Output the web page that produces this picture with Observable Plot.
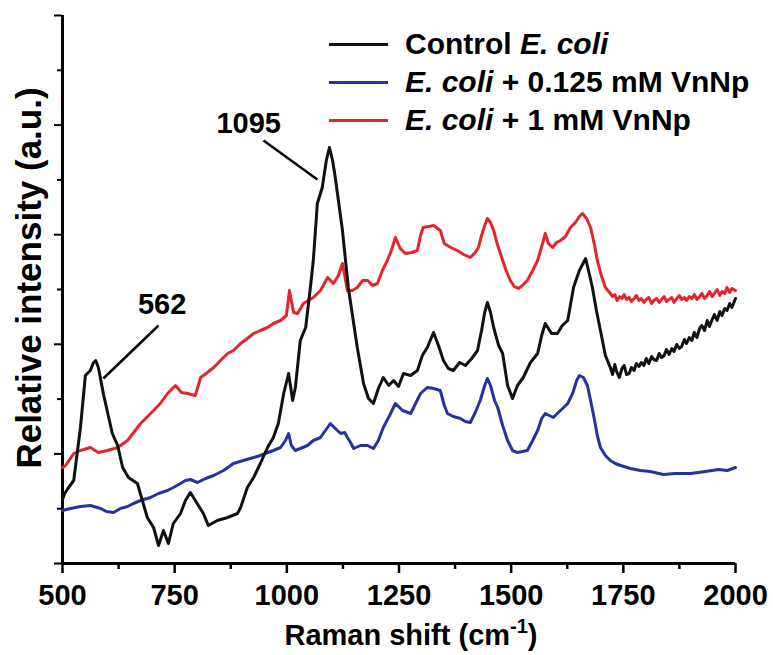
<!DOCTYPE html>
<html><head><meta charset="utf-8">
<script src="https://cdn.jsdelivr.net/npm/d3@7"></script>
<script src="https://cdn.jsdelivr.net/npm/@observablehq/plot@0.6"></script>
<style>
html,body{margin:0;padding:0;background:#fff;}
#wrap{position:relative;width:773px;height:655px;font-family:"Liberation Sans",Arial,sans-serif;font-weight:bold;color:#000;}
#legend{position:absolute;left:329px;top:25px;font-size:30px;line-height:1;}
.row{display:flex;align-items:center;height:38px;white-space:nowrap;}
.sw{width:59px;height:3px;margin-right:17px;}
</style></head><body><div id="wrap"></div>
<script>
// ---- data (Raman shift in cm^-1, relative intensity in a.u.) ----
const seriesNames = ["Control E. coli", "E. coli + 0.125 mM VnNp", "E. coli + 1 mM VnNp"];
const seriesColors = ["#111111", "#26339c", "#e2262b"];

const controlShift = [500,505,512,525,540,551,562,569,574,580,591,603,611,623,634,647,667,678,689,703,714,725,736,747,763,774,785,796,814,825,845,868,890,897,912,926,941,957,970,981,993,1004,1013,1019,1030,1042,1053,1059,1068,1079,1088,1095,1102,1108,1124,1137,1157,1171,1182,1193,1204,1215,1227,1238,1249,1260,1276,1291,1302,1313,1327,1338,1349,1360,1371,1385,1398,1412,1425,1434,1441,1447,1454,1461,1472,1481,1492,1503,1514,1527,1543,1559,1568,1576,1590,1603,1614,1626,1639,1652,1666,1675,1681,1690,1699,1710,1721,1726,1731,1735,1741,1747,1752,1757,1763,1768,1774,1779,1785,1790,1796,1801,1807,1813,1818,1824,1830,1835,1841,1846,1852,1858,1863,1869,1875,1880,1886,1891,1897,1903,1908,1914,1920,1925,1931,1937,1942,1948,1953,1959,1965,1970,1976,1981,1987,1992,2000];
const controlIntensity = [128,140,150,166,272,376,386,402,406,392,340,292,260,236,192,172,160,126,92,72,36,66,40,80,100,126,142,126,100,76,86,92,100,112,152,172,200,232,252,280,340,380,326,352,446,472,556,606,720,752,806,832,806,772,666,552,432,360,330,320,350,372,356,366,354,380,376,386,416,432,462,436,406,390,386,402,396,410,426,466,502,522,502,472,436,420,356,330,356,372,402,420,456,480,460,460,476,486,552,586,610,576,552,506,466,416,392,378,398,384,372,390,396,378,380,392,386,400,394,402,396,410,400,414,408,406,420,412,416,428,418,430,424,438,430,434,448,440,452,446,462,452,470,476,466,486,474,488,498,486,504,496,510,506,520,512,530];

const lowShift = [500,518,540,562,585,598,614,629,645,658,674,696,714,734,747,763,774,785,801,819,837,859,881,903,926,941,957,970,986,997,1004,1010,1019,1030,1046,1059,1075,1086,1097,1108,1120,1129,1135,1142,1149,1164,1180,1193,1204,1215,1229,1242,1258,1276,1287,1298,1313,1327,1342,1351,1358,1371,1387,1398,1409,1420,1431,1441,1447,1454,1463,1470,1481,1492,1503,1514,1525,1536,1548,1559,1568,1576,1585,1594,1605,1617,1626,1637,1646,1652,1661,1670,1677,1686,1692,1699,1710,1721,1732,1744,1766,1788,1810,1839,1866,1900,1933,1962,1982,2000];
const lowIntensity = [106,110,114,116,110,104,102,110,114,120,126,132,140,146,152,160,166,168,162,170,176,186,200,206,212,216,222,226,232,246,260,236,226,230,236,246,252,266,280,270,260,262,252,242,230,236,236,230,246,272,296,320,306,300,320,340,352,350,346,316,300,294,290,284,282,302,326,356,370,356,326,312,276,246,226,222,224,226,246,266,290,300,296,292,302,312,320,340,366,376,372,356,326,286,256,232,216,206,200,196,190,186,184,178,180,180,184,188,186,192];

const highShift = [500,507,525,540,562,580,600,623,645,674,703,718,734,752,765,779,796,808,823,837,852,868,881,897,912,926,941,957,970,986,999,1006,1010,1015,1024,1037,1048,1059,1075,1091,1104,1115,1124,1131,1135,1146,1157,1169,1180,1191,1202,1213,1224,1233,1242,1253,1264,1278,1291,1298,1304,1316,1327,1336,1342,1351,1365,1380,1394,1409,1420,1427,1434,1441,1447,1454,1461,1470,1476,1487,1498,1507,1516,1525,1536,1548,1559,1570,1576,1583,1592,1601,1610,1621,1632,1643,1652,1659,1668,1677,1686,1692,1701,1710,1721,1726,1731,1736,1742,1747,1752,1757,1763,1768,1774,1779,1785,1790,1796,1801,1807,1813,1818,1824,1830,1835,1841,1846,1852,1858,1863,1869,1875,1880,1886,1891,1897,1903,1908,1914,1920,1925,1931,1937,1942,1948,1953,1959,1965,1970,1976,1981,1987,1992,2000];
const highIntensity = [192,196,220,226,232,222,226,232,246,280,306,320,340,356,342,340,336,372,382,392,406,420,426,440,450,460,466,472,480,486,496,546,526,502,500,520,526,532,546,572,560,576,600,566,546,546,552,566,566,556,560,586,606,626,652,630,620,622,626,656,672,674,676,670,666,640,632,626,618,612,622,632,656,676,690,682,666,636,620,590,566,554,550,556,566,586,606,640,660,640,632,642,646,654,672,682,694,700,690,672,636,606,576,552,540,534,538,526,534,530,538,528,532,524,530,536,526,530,522,528,532,520,526,530,522,528,534,524,528,532,522,530,536,528,532,526,534,530,538,528,534,540,530,536,544,534,540,548,536,544,540,552,542,550,546];

const xMajorTicks = [500, 750, 1000, 1250, 1500, 1750, 2000];
const xMinorTicks = [625, 875, 1125, 1375, 1625, 1875];
const yMax = 1096;
const yTickCount = 10;

const peakLabels = ["562", "1095"];
const peakLabelX = [722, 915];
const peakLabelY = [518, 880];
const leaderFromX = [591, 948];
const leaderFromY = [370, 846];
const leaderToX = [714, 1068];
const leaderToY = [476, 768];

// ---- build tables ----
const rows = [];
[[controlShift, controlIntensity, 0], [lowShift, lowIntensity, 1], [highShift, highIntensity, 2]].forEach(([xs, ys, k]) => {
  xs.forEach((x, i) => rows.push({shift: x, intensity: ys[i], series: seriesNames[k]}));
});
const yAll = d3.range(0, yTickCount + 1).map(i => i * yMax / yTickCount);
const yMajor = yAll.filter((d, i) => i % 2 === 0);
const yMinor = yAll.filter((d, i) => i % 2 === 1);
const annos = peakLabels.map((t, i) => ({t, x: peakLabelX[i], y: peakLabelY[i], x1: leaderFromX[i], y1: leaderFromY[i], x2: leaderToX[i], y2: leaderToY[i]}));

const FONT = '"Liberation Sans", Arial, sans-serif';
const plot = Plot.plot({
  width: 773, height: 655,
  marginLeft: 62, marginRight: 38, marginTop: 15, marginBottom: 92,
  style: {fontFamily: FONT, fontWeight: "bold", fontSize: "29px", background: "#fff", color: "#000", overflow: "visible"},
  x: {domain: [500, 2000]},
  y: {domain: [0, yMax]},
  color: {domain: seriesNames, range: seriesColors},
  marks: [
    Plot.axisX({ticks: xMajorTicks, tickSize: 10, tickPadding: 11, strokeWidth: 2.5, fontSize: 29, tickFormat: d => String(d), label: null}),
    Plot.axisX({ticks: xMinorTicks, tickSize: 6, strokeWidth: 2.5, tickFormat: () => "", label: null}),
    Plot.axisY({ticks: yMajor, tickSize: 8, strokeWidth: 2, tickFormat: () => "", label: null}),
    Plot.axisY({ticks: yMinor, tickSize: 5, strokeWidth: 2, tickFormat: () => "", label: null}),
    Plot.ruleY([0], {strokeWidth: 3}),
    Plot.ruleX([500], {strokeWidth: 3}),
    Plot.line(rows.filter(d => d.series === seriesNames[2]), {x: "shift", y: "intensity", stroke: "series", strokeWidth: 3}),
    Plot.line(rows.filter(d => d.series === seriesNames[1]), {x: "shift", y: "intensity", stroke: "series", strokeWidth: 3}),
    Plot.line(rows.filter(d => d.series === seriesNames[0]), {x: "shift", y: "intensity", stroke: "series", strokeWidth: 3}),
    Plot.link(annos, {x1: "x1", y1: "y1", x2: "x2", y2: "y2", stroke: "#000", strokeWidth: 2.5}),
    Plot.text(annos, {x: "x", y: "y", text: "t", fontSize: 29, fontWeight: "bold", fill: "#000", textAnchor: "middle", lineAnchor: "middle"})
  ]
});

const svg = d3.select(plot);
// x axis title with superscript
const xt = svg.append("text").attr("x", 411).attr("y", 645).attr("text-anchor", "middle")
  .attr("font-size", 29).attr("font-weight", "bold").attr("fill", "#000");
xt.append("tspan").text("Raman shift (cm");
xt.append("tspan").attr("dy", -12).attr("font-size", 20).text("-1");
xt.append("tspan").attr("dy", 12).text(")");
// y axis title
svg.append("text").attr("transform", "translate(41,278) rotate(-90)").attr("text-anchor", "middle")
  .attr("font-size", 35).attr("font-weight", "bold").attr("fill", "#000").text("Relative intensity (a.u.)");

const wrap = document.getElementById("wrap");
wrap.appendChild(plot);

// legend
const legend = document.createElement("div");
legend.id = "legend";
const legendHTML = [
  "Control <i>E. coli</i>",
  "<i>E. coli</i> + 0.125 mM VnNp",
  "<i>E. coli</i> + 1 mM VnNp"
];
seriesNames.forEach((name, i) => {
  const r = document.createElement("div");
  r.className = "row";
  r.innerHTML = `<span class="sw" style="background:${seriesColors[i]}"></span><span>${legendHTML[i]}</span>`;
  legend.appendChild(r);
});
wrap.appendChild(legend);
</script></body></html>
